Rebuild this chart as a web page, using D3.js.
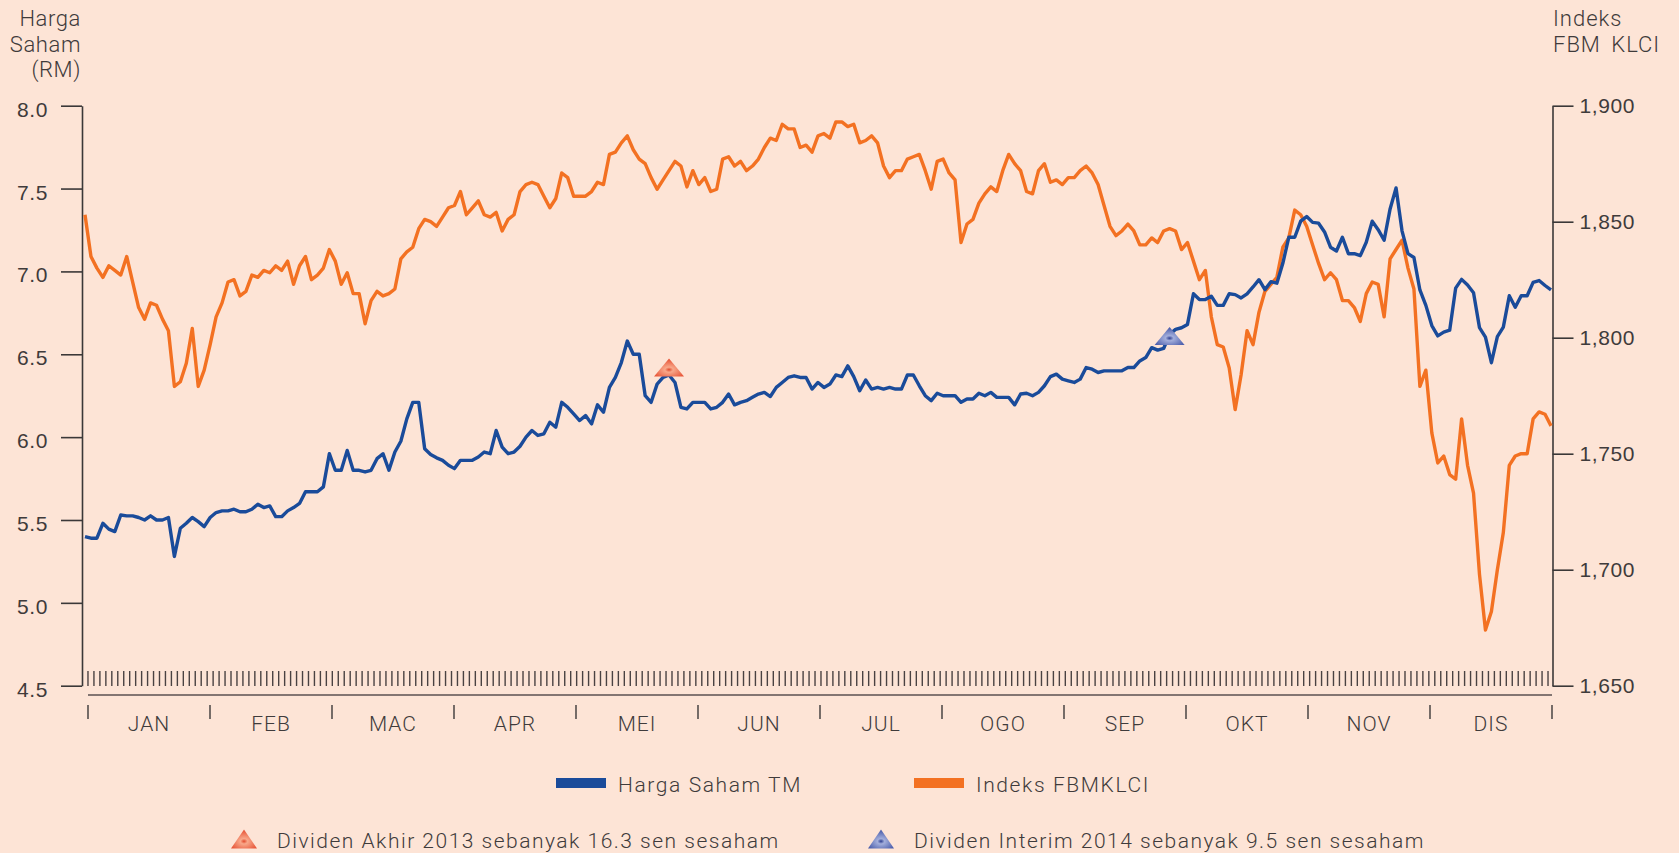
<!DOCTYPE html>
<html>
<head>
<meta charset="utf-8">
<script src="https://cdnjs.cloudflare.com/ajax/libs/d3/7.8.5/d3.min.js"></script>
<style>
  html, body { margin: 0; padding: 0; background: #fde4d6; }
  svg { display: block; font-family: Roboto, "Liberation Sans", sans-serif; font-weight: 300; }
</style>
</head>
<body>
<div id="chart"></div>
<script>
// month labels along the bottom
var months = ['JAN', 'FEB', 'MAC', 'APR', 'MEI', 'JUN', 'JUL', 'OGO', 'SEP', 'OKT', 'NOV', 'DIS'];

// daily closing price TM (RM), one value per trading day
var hargaSaham = [
  5.40, 5.39, 5.39, 5.48, 5.445, 5.43, 5.53, 5.525, 5.525, 5.515,
  5.50, 5.525, 5.50, 5.50, 5.515, 5.28, 5.45, 5.48, 5.515, 5.49,
  5.46, 5.515, 5.545, 5.555, 5.555, 5.565, 5.55, 5.55, 5.565, 5.595,
  5.575, 5.585, 5.52, 5.52, 5.555, 5.575, 5.60, 5.67, 5.67, 5.67,
  5.70, 5.90, 5.80, 5.80, 5.92, 5.80, 5.80, 5.79, 5.80, 5.87,
  5.90, 5.80, 5.91, 5.975, 6.11, 6.21, 6.21, 5.93, 5.895, 5.875,
  5.86, 5.83, 5.81, 5.86, 5.86, 5.86, 5.88, 5.91, 5.90, 6.04,
  5.94, 5.90, 5.91, 5.945, 6.00, 6.04, 6.01, 6.02, 6.09, 6.06,
  6.21, 6.18, 6.14, 6.10, 6.13, 6.08, 6.195, 6.15, 6.30, 6.36,
  6.45, 6.58, 6.50, 6.50, 6.25, 6.21, 6.32, 6.36, 6.375, 6.33,
  6.18, 6.17, 6.21, 6.21, 6.21, 6.17, 6.18, 6.21, 6.26, 6.195,
  6.21, 6.22, 6.24, 6.26, 6.27, 6.245, 6.30, 6.33, 6.36, 6.37,
  6.36, 6.36, 6.29, 6.33, 6.30, 6.32, 6.375, 6.365, 6.43, 6.365,
  6.28, 6.345, 6.29, 6.30, 6.29, 6.30, 6.29, 6.29, 6.375, 6.375,
  6.31, 6.25, 6.22, 6.265, 6.25, 6.25, 6.25, 6.21, 6.23, 6.23,
  6.265, 6.25, 6.27, 6.24, 6.24, 6.24, 6.195, 6.26, 6.265, 6.25,
  6.27, 6.31, 6.365, 6.38, 6.35, 6.34, 6.33, 6.35, 6.42, 6.41,
  6.39, 6.40, 6.40, 6.40, 6.40, 6.42, 6.42, 6.46, 6.48, 6.54,
  6.525, 6.535, 6.62, 6.65, 6.66, 6.68, 6.865, 6.83, 6.83, 6.85,
  6.795, 6.795, 6.865, 6.86, 6.84, 6.865, 6.906, 6.95, 6.89, 6.938,
  6.929, 7.049, 7.206, 7.206, 7.303, 7.331, 7.296, 7.291, 7.238, 7.146,
  7.123, 7.206, 7.107, 7.107, 7.095, 7.176, 7.303, 7.252, 7.188, 7.377,
  7.504, 7.245, 7.107, 7.084, 6.888, 6.795, 6.673, 6.611, 6.634, 6.645,
  6.899, 6.952, 6.918, 6.871, 6.661, 6.604, 6.449, 6.606, 6.664, 6.853,
  6.784, 6.853, 6.853, 6.934, 6.945, 6.915, 6.888
];

// daily FBM KLCI close
var indeksKLCI = [
  1853, 1835, 1830, 1826, 1831, 1829, 1827, 1835, 1824, 1813,
  1808, 1815, 1814, 1808, 1803, 1779, 1781, 1789, 1804, 1779,
  1786, 1797, 1809, 1815, 1824, 1825, 1818, 1820, 1827, 1826,
  1829, 1828, 1831, 1829, 1833, 1823, 1831, 1835, 1825, 1827,
  1830, 1838, 1833, 1823, 1828, 1819, 1819, 1806, 1816, 1820,
  1818, 1819, 1821, 1834, 1837, 1839, 1847, 1851, 1850, 1848,
  1852, 1856, 1857, 1863, 1853, 1856, 1859, 1853, 1852, 1854,
  1846, 1851, 1853, 1863, 1866, 1867, 1866, 1861, 1856, 1860,
  1871, 1869, 1861, 1861, 1861, 1863, 1867, 1866, 1879, 1880,
  1884, 1887, 1881, 1877, 1875, 1869, 1864, 1868, 1872, 1876,
  1874, 1865, 1872, 1866, 1869, 1863, 1864, 1877, 1878, 1874,
  1876, 1872, 1874, 1877, 1882, 1886, 1885, 1892, 1890, 1890,
  1882, 1883, 1880, 1887, 1888, 1886, 1893, 1893, 1891, 1892,
  1884, 1885, 1887, 1884, 1874, 1869, 1872, 1872, 1877, 1878,
  1879, 1872, 1864, 1876, 1877, 1871, 1868, 1841, 1849, 1851,
  1858, 1862, 1865, 1863, 1872, 1879, 1875, 1872, 1863, 1862,
  1872, 1875, 1867, 1868, 1866, 1869, 1869, 1872, 1874, 1871,
  1866, 1857, 1848, 1844, 1846, 1849, 1846, 1840, 1840, 1843,
  1841, 1846, 1847, 1846, 1838, 1841, 1833, 1825, 1829, 1809,
  1797, 1796, 1787, 1769, 1784, 1803, 1797, 1811, 1820, 1823,
  1826, 1839, 1843, 1855, 1853, 1848, 1840, 1832, 1825, 1828,
  1825, 1816, 1816, 1813, 1807, 1819, 1824, 1823, 1809, 1834,
  1838, 1842, 1830, 1821, 1779, 1786, 1759, 1746, 1749, 1741,
  1739, 1765, 1745, 1733, 1698, 1674, 1682, 1700, 1716, 1745,
  1749, 1750, 1750, 1765, 1768, 1767, 1762
];

var leftTicks = [4.5, 5.0, 5.5, 6.0, 6.5, 7.0, 7.5, 8.0];
var rightTicks = [1650, 1700, 1750, 1800, 1850, 1900];

// dividend markers: trading day and price level
var dividenHari = [98, 182];
var dividenNilai = [6.42, 6.61];
var dividenLabel = ['Dividen Akhir 2013 sebanyak 16.3 sen sesaham', 'Dividen Interim 2014 sebanyak 9.5 sen sesaham'];

var seriesLabel = ['Harga Saham TM', 'Indeks FBMKLCI'];

var width = 1679, height = 853;
var blue = '#1a4b9a', orange = '#f37122', ink = '#3b3838', textCol = '#3f3b3b';

var svg = d3.select('#chart').append('svg').attr('width', width).attr('height', height);

svg.append('rect').attr('width', width).attr('height', height).attr('fill', '#fde4d6');

// gradients for the dividend triangles
var defs = svg.append('defs');
var gOrange = defs.append('radialGradient').attr('id', 'gradOrange').attr('cx', '50%').attr('cy', '62%').attr('r', '55%');
gOrange.append('stop').attr('offset', '0%').attr('stop-color', '#e24a2c');
gOrange.append('stop').attr('offset', '25%').attr('stop-color', '#f8a88a');
gOrange.append('stop').attr('offset', '100%').attr('stop-color', '#e8583b');
var gBlue = defs.append('radialGradient').attr('id', 'gradBlue').attr('cx', '50%').attr('cy', '62%').attr('r', '55%');
gBlue.append('stop').attr('offset', '0%').attr('stop-color', '#2e3f92');
gBlue.append('stop').attr('offset', '25%').attr('stop-color', '#a3aedb');
gBlue.append('stop').attr('offset', '100%').attr('stop-color', '#4e60ad');

var n = hargaSaham.length;
var x = d3.scaleLinear().domain([0, n - 1]).range([85, 1551]);
var xMonth = d3.scaleLinear().domain([0, 12]).range([88, 1552]);
var yLeft = d3.scaleLinear().domain([4.5, 8.0]).range([685.7, 105.7]);
var yRight = d3.scaleLinear().domain([1650, 1900]).range([685.7, 105.7]);

// axes
var leftAxis = d3.axisLeft(yLeft).tickValues(leftTicks).tickSize(21).tickSizeOuter(0)
  .tickPadding(13).tickFormat(d3.format('.1f'));
var rightAxis = d3.axisRight(yRight).tickValues(rightTicks).tickSize(21).tickSizeOuter(0)
  .tickPadding(6).tickFormat(d3.format(','));

var gl = svg.append('g').attr('transform', 'translate(82,0)').call(leftAxis);
var gr = svg.append('g').attr('transform', 'translate(1552.5,0)').call(rightAxis);
[gl, gr].forEach(function (g) {
  g.select('.domain').attr('stroke', ink).attr('stroke-width', 1.6);
  g.selectAll('.tick line').attr('stroke', ink).attr('stroke-width', 1.6);
  g.selectAll('.tick text').attr('fill', textCol).attr('font-size', 21).attr('font-family', null)
    .attr('letter-spacing', 0.6);
});
gl.selectAll('.tick text').attr('dy', '0.5em');
gr.selectAll('.tick text').attr('dy', '0.3em');

// axis titles
var titleL = svg.append('text').attr('text-anchor', 'end').attr('fill', textCol).attr('font-size', 22)
  .attr('letter-spacing', 0.6);
['Harga', 'Saham', '(RM)'].forEach(function (t, i) {
  titleL.append('tspan').attr('x', 81).attr('y', 26 + i * 25.5).text(t);
});
var titleR = svg.append('text').attr('fill', textCol).attr('font-size', 22).attr('letter-spacing', 1)
  .attr('word-spacing', 4);
['Indeks', 'FBM KLCI'].forEach(function (t, i) {
  titleR.append('tspan').attr('x', 1553).attr('y', 26 + i * 25.5).text(t);
});

// daily tick marks above the baseline
svg.append('g').selectAll('line')
  .data(d3.range(n - 1))
  .enter()
  .append('line')
  .attr('x1', function (i) { return (x(i) + x(i + 1)) / 2; })
  .attr('x2', function (i) { return (x(i) + x(i + 1)) / 2; })
  .attr('y1', 671)
  .attr('y2', 686)
  .attr('stroke', '#4a4242')
  .attr('stroke-width', 1.4);

svg.append('line').attr('x1', xMonth(0)).attr('x2', xMonth(12)).attr('y1', 695).attr('y2', 695)
  .attr('stroke', '#5a5050').attr('stroke-width', 1.6);

// month separators and names
svg.append('g').selectAll('line')
  .data(d3.range(13))
  .enter()
  .append('line')
  .attr('x1', function (d) { return xMonth(d); })
  .attr('x2', function (d) { return xMonth(d); })
  .attr('y1', 705)
  .attr('y2', 719)
  .attr('stroke', ink)
  .attr('stroke-width', 1.4);

svg.append('g').selectAll('text')
  .data(months)
  .enter()
  .append('text')
  .attr('x', function (d, i) { return xMonth(i + 0.5); })
  .attr('y', 731)
  .attr('text-anchor', 'middle')
  .attr('font-size', 21)
  .attr('letter-spacing', 1)
  .attr('fill', textCol)
  .text(function (d) { return d; });

// lines
var lineKLCI = d3.line().x(function (d, i) { return x(i); }).y(function (d) { return yRight(d); });
var lineHarga = d3.line().x(function (d, i) { return x(i); }).y(function (d) { return yLeft(d); });

svg.append('path').datum(indeksKLCI).attr('d', lineKLCI)
  .attr('fill', 'none').attr('stroke', orange).attr('stroke-width', 3.4).attr('stroke-linejoin', 'round');
svg.append('path').datum(hargaSaham).attr('d', lineHarga)
  .attr('fill', 'none').attr('stroke', blue).attr('stroke-width', 3.4).attr('stroke-linejoin', 'round');

// dividend triangles
function triangle(cx, cy, w, h) {
  return 'M' + (cx - w / 2) + ',' + (cy + h / 2) + 'L' + cx + ',' + (cy - h / 2) + 'L' + (cx + w / 2) + ',' + (cy + h / 2) + 'Z';
}
var triFill = ['url(#gradOrange)', 'url(#gradBlue)'];
svg.append('g').selectAll('path')
  .data(dividenHari)
  .enter()
  .append('path')
  .attr('d', function (d, i) { return triangle(x(d), yLeft(dividenNilai[i]), 30, 18); })
  .attr('fill', function (d, i) { return triFill[i]; });

// legend
var legend1 = [556, 914];
seriesLabel.forEach(function (t, i) {
  svg.append('rect').attr('x', legend1[i]).attr('y', 778).attr('width', 50).attr('height', 10)
    .attr('fill', i === 0 ? blue : orange);
  svg.append('text').attr('x', legend1[i] + 62).attr('y', 792).attr('font-size', 21)
    .attr('letter-spacing', 1.6).attr('fill', textCol).text(t);
});

var legend2 = [244, 881];
dividenLabel.forEach(function (t, i) {
  svg.append('path').attr('d', triangle(legend2[i], 839, 26, 19)).attr('fill', triFill[i]);
  svg.append('text').attr('x', legend2[i] + 33).attr('y', 848).attr('font-size', 21)
    .attr('letter-spacing', 1.5).attr('fill', textCol).text(t);
});
</script>
</body>
</html>
